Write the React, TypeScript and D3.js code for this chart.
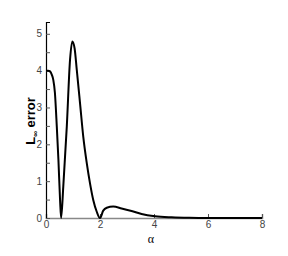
import React, { useEffect, useRef } from "react";
import * as d3 from "d3";

// L-infinity error against alpha
const alphaValues = [0, 0.08, 0.15, 0.22, 0.27, 0.33, 0.4, 0.46, 0.52, 0.56, 0.64, 0.77, 0.89, 0.975, 1.06, 1.14, 1.26, 1.38, 1.51, 1.63, 1.75, 1.88, 2.0, 2.12, 2.25, 2.49, 2.8, 3.17, 3.54, 4.04, 4.65, 5.3, 6, 7, 8];
const errorValues = [4.0, 4.0, 3.98, 3.88, 3.75, 3.4, 2.48, 1.58, 0.5, 0, 0.85, 2.48, 4.29, 4.79, 4.6, 4.02, 3.12, 2.21, 1.49, 0.94, 0.49, 0.17, 0, 0.2, 0.28, 0.31, 0.26, 0.19, 0.11, 0.05, 0.02, 0.005, 0, 0, 0];
const xTicks = [0, 2, 4, 6, 8];
const yTicks = [0, 1, 2, 3, 4, 5];
const yMinorTicks = [0.5, 1.5, 2.5, 3.5, 4.5];

const App = () => {
  const ref = useRef<SVGSVGElement>(null);

  useEffect(() => {
    const svg = d3.select(ref.current);
    svg.selectAll("*").remove();

    const x = d3.scaleLinear().domain([0, 8]).range([46, 262]);
    const y = d3.scaleLinear().domain([0, 5.32]).range([218, 22]);

    const font = "'Liberation Sans', Arial, sans-serif";

    // curve
    const pts = alphaValues.map((a, i) => [a, errorValues[i]] as [number, number]);
    const line = d3
      .line<[number, number]>()
      .x((d) => x(d[0]))
      .y((d) => y(d[1]))
      .curve(d3.curveMonotoneX);

    // x axis, ticks pointing inward
    const gx = svg
      .append("g")
      .attr("transform", `translate(0,${y(0)})`)
      .call(d3.axisBottom(x).tickValues(xTicks).tickSize(-4).tickPadding(3).tickFormat(d3.format("d")));
    gx.select(".domain").attr("stroke", "#888").attr("stroke-width", 1.5);
    gx.selectAll(".tick line").attr("stroke", "#555");
    gx.selectAll("text").attr("font-family", font).attr("font-size", 10).attr("fill", "#444");

    // y axis
    const gy = svg
      .append("g")
      .attr("transform", `translate(${x(0)},0)`)
      .call(d3.axisLeft(y).tickValues(yTicks).tickSize(-4).tickPadding(4).tickFormat(d3.format("d")));
    gy.select(".domain").attr("stroke", "#000").attr("stroke-width", 1.2);
    gy.selectAll(".tick line").attr("stroke", "#555");
    gy.selectAll("text").attr("font-family", font).attr("font-size", 10).attr("fill", "#444");

    svg
      .append("g")
      .attr("transform", `translate(${x(0)},0)`)
      .call(d3.axisLeft(y).tickValues(yMinorTicks).tickSize(-4).tickFormat(() => ""))
      .call((g) => g.select(".domain").remove())
      .selectAll(".tick line")
      .attr("stroke", "#555");

    svg
      .append("path")
      .datum(pts)
      .attr("d", line)
      .attr("fill", "none")
      .attr("stroke", "#000")
      .attr("stroke-width", 2);

    // labels
    svg
      .append("text")
      .attr("x", 151)
      .attr("y", 243)
      .attr("text-anchor", "middle")
      .attr("font-family", "'Liberation Serif', 'Times New Roman', serif")
      .attr("font-size", 12)
      .text("α");

    const yl = svg
      .append("text")
      .attr("transform", "translate(35,121) rotate(-90)")
      .attr("text-anchor", "middle")
      .attr("font-family", font)
      .attr("font-size", 13)
      .attr("font-weight", "bold");
    yl.append("tspan").text("L");
    yl.append("tspan").attr("font-size", 8).attr("dy", 3).text("∞");
    yl.append("tspan").attr("dy", -3).text(" error");
  }, []);

  return (
    <svg
      ref={ref}
      width={288}
      height={256}
      style={{ position: "absolute", left: 0, top: 0, background: "#fff" }}
    />
  );
};

export default App;
